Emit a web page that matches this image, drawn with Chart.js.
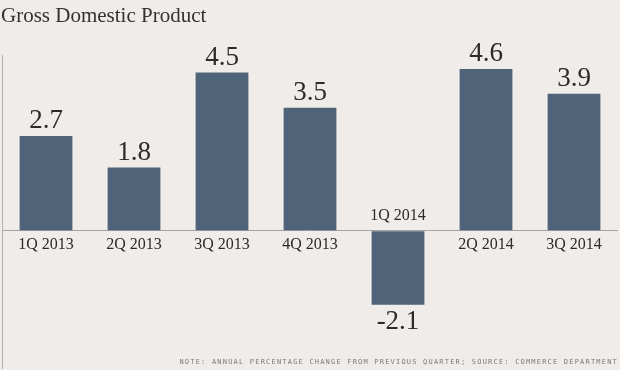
<!DOCTYPE html>
<html>
<head>
<meta charset="utf-8">
<script src="https://cdn.jsdelivr.net/npm/chart.js@4.4.0/dist/chart.umd.min.js"></script>
<style>
  html, body { margin: 0; padding: 0; background: #efece9; }
  #wrap { width: 620px; height: 370px; position: relative; }
</style>
</head>
<body>
<div id="wrap"><canvas id="gdp"></canvas></div>
<script>
const quarters = ['1Q 2013', '2Q 2013', '3Q 2013', '4Q 2013', '1Q 2014', '2Q 2014', '3Q 2014'];
const growth = [2.7, 1.8, 4.5, 3.5, -2.1, 4.6, 3.9];
const valueLabels = ['2.7', '1.8', '4.5', '3.5', '-2.1', '4.6', '3.9'];

const chartTitle = 'Gross Domestic Product';
const note = 'NOTE: ANNUAL PERCENTAGE CHANGE FROM PREVIOUS QUARTER; SOURCE: COMMERCE DEPARTMENT';

// draws title, value labels, category labels and the footnote
const labelsPlugin = {
    id: 'labels',
    afterDatasetsDraw(chart) {
        const ctx = chart.ctx
        const meta = chart.getDatasetMeta(0)
        const zero = chart.scales.y.getPixelForValue(0)
        ctx.save()
        meta.data.forEach((bar, i) => {
            const neg = growth[i] < 0
            ctx.fillStyle = '#2b2b2b'
            ctx.textAlign = 'center'
            ctx.font = '27px "Liberation Serif", "DejaVu Serif", serif'
            ctx.textBaseline = 'alphabetic'
            ctx.fillText(valueLabels[i], bar.x, neg ? bar.y + 24 : bar.y - 8)
            ctx.font = '16px "Liberation Serif", "DejaVu Serif", serif'
            ctx.textBaseline = 'middle'
            ctx.fillText(quarters[i], bar.x, neg ? zero - 15 : zero + 14)
        })
        ctx.fillStyle = '#333'
        ctx.textAlign = 'left'
        ctx.textBaseline = 'middle'
        ctx.font = '21px "Liberation Serif", "DejaVu Serif", serif'
        ctx.fillText(chartTitle, 1, 16)
        ctx.fillStyle = '#7a7a7a'
        ctx.textAlign = 'right'
        ctx.font = '7px "DejaVu Sans Mono", monospace'
        ctx.letterSpacing = '1.2px'
        ctx.fillText(note, 618, 362)
        ctx.restore()
    }
}

new Chart(document.getElementById('gdp'), {
    type: 'bar',
    data: {
        labels: quarters,
        datasets: [{
            data: growth,
            backgroundColor: '#4f6478',
            barPercentage: 0.6,
            categoryPercentage: 1.0
        }]
    },
    options: {
        responsive: true,
        maintainAspectRatio: false,
        animation: false,
        layout: { padding: { top: 55, bottom: 2, left: 2, right: 2 } },
        plugins: { legend: { display: false }, tooltip: { enabled: false } },
        scales: {
            x: { display: false },
            y: {
                min: -3.9,
                max: 5,
                ticks: { display: false, stepSize: 1 },
                grid: {
                    color: ctx => ctx.tick.value === 0 ? '#a8a5a2' : 'rgba(0,0,0,0)',
                    drawTicks: false
                },
                border: { display: true, color: '#b5b2af' }
            }
        }
    },
    plugins: [labelsPlugin]
});
</script>
</body>
</html>
